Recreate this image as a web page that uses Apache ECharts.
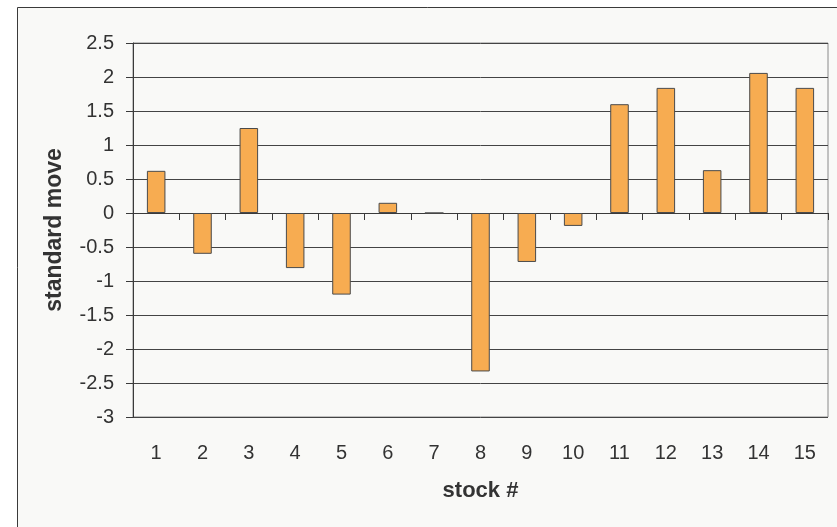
<!DOCTYPE html>
<html>
<head>
<meta charset="utf-8">
<script src="https://cdn.jsdelivr.net/npm/echarts@6/dist/echarts.min.js"></script>
<style>
  html, body { margin: 0; padding: 0; background: #ffffff; }
  #chart { width: 837px; height: 527px; }
</style>
</head>
<body>
<div id="chart"></div>
<script>
// Stock numbers along the horizontal axis
const stocks = ['1', '2', '3', '4', '5', '6', '7', '8', '9', '10', '11', '12', '13', '14', '15'];
// Standard move per stock
const standardMove = [0.62, -0.6, 1.25, -0.81, -1.2, 0.15, 0, -2.33, -0.72, -0.19, 1.6, 1.84, 0.63, 2.06, 1.84];
// Value axis range
const yMin = -3;
const yMax = 2.5;
const yStep = 0.5;

const textColor = '#333333';
const fontFamily = 'Liberation Sans, Arial, sans-serif';

const chart = echarts.init(document.getElementById('chart'), null, { renderer: 'canvas' });

chart.setOption({
  backgroundColor: '#ffffff',
  animation: false,
  graphic: [{
    type: 'rect',
    z: -10,
    shape: { x: 17.5, y: 7.5, width: 840, height: 540 },
    style: { fill: '#f9f9f7', stroke: '#3a3a3a', lineWidth: 1 }
  }],
  grid: {
    left: 133, top: 43, right: 9, bottom: 110,
    show: true, borderColor: '#8a8a8a', borderWidth: 1, backgroundColor: 'transparent'
  },
  xAxis: [{
    type: 'category',
    data: stocks,
    position: 'bottom',
    axisLine: { show: false, onZero: false },
    axisTick: { show: false },
    axisLabel: { color: textColor, fontSize: 20, fontFamily: fontFamily, margin: 26 },
    name: 'stock #',
    nameLocation: 'middle',
    nameGap: 63,
    nameTextStyle: { color: textColor, fontSize: 22, fontWeight: 'bold', fontFamily: fontFamily }
  }, {
    type: 'category',
    data: stocks,
    position: 'bottom',
    axisLine: { show: true, onZero: true, lineStyle: { color: '#3a3a3a', width: 1 } },
    axisTick: { show: true, length: 7, lineStyle: { color: '#3a3a3a' } },
    axisLabel: { show: false },
    splitLine: { show: false }
  }],
  yAxis: {
    type: 'value',
    min: yMin, max: yMax, interval: yStep,
    axisLine: { show: true, lineStyle: { color: '#3a3a3a', width: 1 } },
    axisTick: { show: true, length: 7, lineStyle: { color: '#3a3a3a' } },
    axisLabel: { color: textColor, fontSize: 20, fontFamily: fontFamily, margin: 19 },
    splitLine: { show: true, lineStyle: { color: '#444444', width: 1 } },
    name: 'standard move',
    nameLocation: 'middle',
    nameGap: 67,
    nameTextStyle: { color: textColor, fontSize: 23, fontWeight: 'bold', fontFamily: fontFamily }
  },
  series: [{
    type: 'bar',
    xAxisIndex: 0,
    data: standardMove,
    barWidth: '40%',
    itemStyle: { color: '#f7ac51', borderColor: '#4a4a4a', borderWidth: 1 }
  }]
});
</script>
</body>
</html>
